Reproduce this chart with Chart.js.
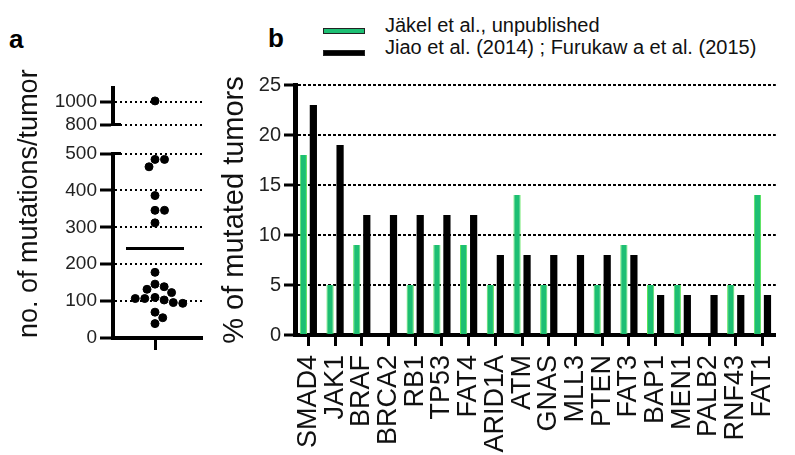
<!DOCTYPE html>
<html>
<head>
<meta charset="utf-8">
<title>Mutation load and mutated genes</title>
<script src="https://cdn.jsdelivr.net/npm/chart.js@4.4.1/dist/chart.umd.min.js"></script>
<style>
  html, body { margin: 0; padding: 0; background: #fff; }
  body {
    width: 795px; height: 455px; position: relative; overflow: hidden;
    font-family: "Liberation Sans", Arial, sans-serif; color: #111;
  }
  canvas { position: absolute; }
  #chart-a { left: 0; top: 0; }
  #chart-b { left: 214px; top: 60px; }
  .panel-label { position: absolute; font-weight: bold; font-size: 26px; line-height: 26px; color: #000; }
  .legend__box { position: absolute; width: 42px; height: 6px; box-sizing: border-box; border: 1px solid #222; }
  .legend__text { position: absolute; font-size: 20px; line-height: 20px; white-space: nowrap; }
</style>
</head>
<body>
<div class="panel-label" style="left:9px; top:26px;">a</div>
<div class="panel-label" style="left:268px; top:25px;">b</div>
<div id="legend"></div>
<canvas id="chart-a" width="215" height="360"></canvas>
<canvas id="chart-b" width="590" height="400"></canvas>

<script>
  const FONT = '"Liberation Sans", Arial, sans-serif';
  Chart.defaults.font.family = FONT;
  Chart.defaults.color = "#222";

  // ---- panel a: mutations per tumor ----
  const mutationCounts = [1010, 484, 484, 464, 386, 346, 346, 312, 178, 146, 139, 132,
    123, 110, 107, 107, 103, 96, 94, 70, 55, 39];
  const lowerTicks = [0, 100, 200, 300, 400, 500];
  const upperTicks = [800, 1000];

  // ---- panel b: % of mutated tumors per gene ----
  const genes = ["SMAD4", "JAK1", "BRAF", "BRCA2", "RB1", "TP53", "FAT4", "ARID1A", "ATM",
    "GNAS", "MLL3", "PTEN", "FAT3", "BAP1", "MEN1", "PALB2", "RNF43", "FAT1"];
  const jaekel = [18, 5, 9, 0, 5, 9, 9, 5, 14, 5, 0, 5, 9, 5, 5, 0, 5, 14];
  const jiaoFurukawa = [23, 19, 12, 12, 12, 12, 12, 8, 8, 8, 8, 8, 8, 4, 4, 4, 4, 4];
  const percentTicks = [0, 5, 10, 15, 20, 25];

  // axis break: lower segment 0-500, upper segment from 800
  const LOWER_MAX = 500;
  const UPPER_MIN = 800;
  const UPPER_MAX = 1125;
  const LOWER_PX = 184.5, GAP_PX = 29, UPPER_PX = 36.5;
  const DOT = 4;

  // spread the dots sideways so they don't overlap (simple beeswarm, in pixels)
  function swarm(values, pxPerUnit, diameter) {
    const placed = [];
    const offsets = new Array(values.length);
    const order = values.map((v, i) => i).sort((a, b) => values[b] - values[a]);
    order.forEach((i) => {
      const y = values[i] * pxPerUnit;
      const near = placed.filter((p) => Math.abs(p.y - y) < diameter);
      const candidates = [0];
      near.forEach((p) => {
        const dx = Math.sqrt(diameter * diameter - (p.y - y) ** 2);
        candidates.push(p.x + dx, p.x - dx);
      });
      candidates.sort((a, b) => Math.abs(a) - Math.abs(b));
      const x = candidates.find((c) =>
        near.every((p) => (p.x - c) ** 2 + (p.y - y) ** 2 >= diameter * diameter - 0.01));
      offsets[i] = x;
      placed.push({ x: x, y: y });
    });
    return offsets;
  }

  const lowerValues = mutationCounts.filter((v) => v <= LOWER_MAX);
  const upperValues = mutationCounts.filter((v) => v >= UPPER_MIN);
  const lowerOffsets = swarm(lowerValues, LOWER_PX / LOWER_MAX, DOT * 2 + 1.5);
  const lowerPoints = lowerValues.map((v, i) => ({ x: lowerOffsets[i], y: v }));
  const upperPoints = upperValues.map((v) => ({ x: 0, y: v }));
  const mean = mutationCounts.reduce((s, v) => s + v, 0) / mutationCounts.length;

  const fixedTicks = (list) => (scale) => {
    scale.ticks = list.map((v) => ({ value: v }));
  };

  // short solid caps on the right of the axis where it is broken
  const axisBreak = {
    id: "axisBreak",
    afterDraw(chart) {
      const { ctx } = chart;
      const lower = chart.scales.y;
      const upper = chart.scales.yTop;
      const x = chart.chartArea.left;
      ctx.save();
      ctx.strokeStyle = "#000";
      ctx.lineWidth = 3;
      [lower.getPixelForValue(lower.max), upper.getPixelForValue(upper.min)].forEach((py) => {
        ctx.beginPath();
        ctx.moveTo(x - 2, py);
        ctx.lineTo(x + 8, py);
        ctx.stroke();
      });
      ctx.restore();
    },
  };

  const dotStyle = {
    pointRadius: DOT,
    pointHoverRadius: DOT,
    backgroundColor: "#000",
    borderColor: "#000",
  };

  const countTicks = { font: { size: 19 }, padding: 3, autoSkip: false, callback: (v) => String(v) };
  const countGrid = { color: "#000", lineWidth: 2, tickLength: 13, tickWidth: 3, tickColor: "#000" };

  new Chart(document.getElementById("chart-a"), {
    type: "scatter",
    data: {
      datasets: [
        { data: lowerPoints, yAxisID: "y", ...dotStyle },
        { data: upperPoints, yAxisID: "yTop", ...dotStyle },
        {
          type: "line",
          data: [{ x: -29, y: mean }, { x: 29, y: mean }],
          yAxisID: "y",
          borderColor: "#000",
          borderWidth: 3,
          pointRadius: 0,
        },
      ],
    },
    options: {
      responsive: false,
      animation: false,
      layout: { padding: { top: 88, right: 13, bottom: 10, left: 5 } },
      plugins: { legend: { display: false }, tooltip: { enabled: false } },
      scales: {
        x: {
          type: "linear",
          min: -42,
          max: 47,
          afterBuildTicks: fixedTicks([0]),
          ticks: { display: false },
          grid: { drawOnChartArea: false, tickLength: 12, tickWidth: 3, tickColor: "#000" },
          border: { width: 4, color: "#000" },
        },
        y: {
          position: "left",
          stack: "a",
          stackWeight: LOWER_PX,
          weight: 1,
          min: 0,
          max: LOWER_MAX,
          afterBuildTicks: fixedTicks(lowerTicks),
          afterFit: (scale) => { scale.width = 108; },
          ticks: countTicks,
          grid: countGrid,
          border: { width: 4, color: "#000", dash: [2, 3] },
          title: {
            display: true,
            text: "no. of mutations/tumor",
            align: "start",
            color: "#111",
            font: { size: 27 },
            padding: { top: 8, bottom: 0 },
          },
        },
        gap: {
          type: "linear",
          position: "left",
          stack: "a",
          stackWeight: GAP_PX,
          weight: 2,
          afterFit: (scale) => { scale.width = 108; },
          ticks: { display: false },
          grid: { display: false, drawTicks: false },
          border: { display: false },
        },
        yTop: {
          type: "linear",
          position: "left",
          stack: "a",
          stackWeight: UPPER_PX,
          weight: 3,
          min: UPPER_MIN,
          max: UPPER_MAX,
          afterBuildTicks: fixedTicks(upperTicks),
          afterFit: (scale) => { scale.width = 108; },
          ticks: countTicks,
          grid: countGrid,
          border: { width: 4, color: "#000", dash: [2, 3] },
        },
      },
    },
    plugins: [axisBreak],
  });

  // ---- panel b ----
  const barChart = new Chart(document.getElementById("chart-b"), {
    type: "bar",
    data: {
      labels: genes,
      datasets: [
        {
          label: "Jäkel et al., unpublished",
          data: jaekel,
          backgroundColor: "#1dbf73",
          borderColor: "#5ae45a",
          borderWidth: { left: 1, right: 1, top: 0, bottom: 0 },
        },
        {
          label: "Jiao et al. (2014) ; Furukaw a et al. (2015)",
          data: jiaoFurukawa,
          backgroundColor: "#000",
        },
      ],
    },
    options: {
      responsive: false,
      animation: false,
      layout: { padding: { top: 25, right: 5, bottom: 0, left: 0 } },
      datasets: { bar: { categoryPercentage: 0.75, barPercentage: 0.72 } },
      plugins: { legend: { display: false }, tooltip: { enabled: false } },
      scales: {
        x: {
          afterFit: (scale) => { scale.height = 125; },
          ticks: {
            autoSkip: false,
            minRotation: 90,
            maxRotation: 90,
            padding: 9,
            color: "#111",
            font: { size: 27 },
          },
          grid: { offset: false, drawOnChartArea: false, tickLength: 11, tickWidth: 3, tickColor: "#000" },
          border: { width: 4, color: "#000" },
        },
        y: {
          min: 0,
          max: 25,
          afterBuildTicks: fixedTicks(percentTicks),
          afterFit: (scale) => { scale.width = 81; },
          ticks: { font: { size: 20 }, padding: 3, autoSkip: false },
          grid: { color: "#000", lineWidth: 2, tickLength: 11, tickWidth: 3, tickColor: "#000" },
          border: { width: 5, color: "#000", dash: [3, 2] },
          title: {
            display: true,
            text: "% of mutated tumors",
            color: "#111",
            font: { size: 29 },
            padding: { top: 4, bottom: 6 },
          },
        },
      },
    },
  });

  // legend built from the bar datasets, stacked as two rows
  const legend = document.getElementById("legend");
  barChart.data.datasets.forEach((ds, i) => {
    const box = document.createElement("div");
    box.className = "legend__box";
    box.style.left = "323px";
    box.style.top = 28 + i * 22 + "px";
    box.style.background = ds.backgroundColor;
    legend.appendChild(box);

    const text = document.createElement("div");
    text.className = "legend__text";
    text.style.left = "385px";
    text.style.top = 15 + i * 22 + "px";
    text.textContent = ds.label;
    legend.appendChild(text);
  });
</script>
</body>
</html>
